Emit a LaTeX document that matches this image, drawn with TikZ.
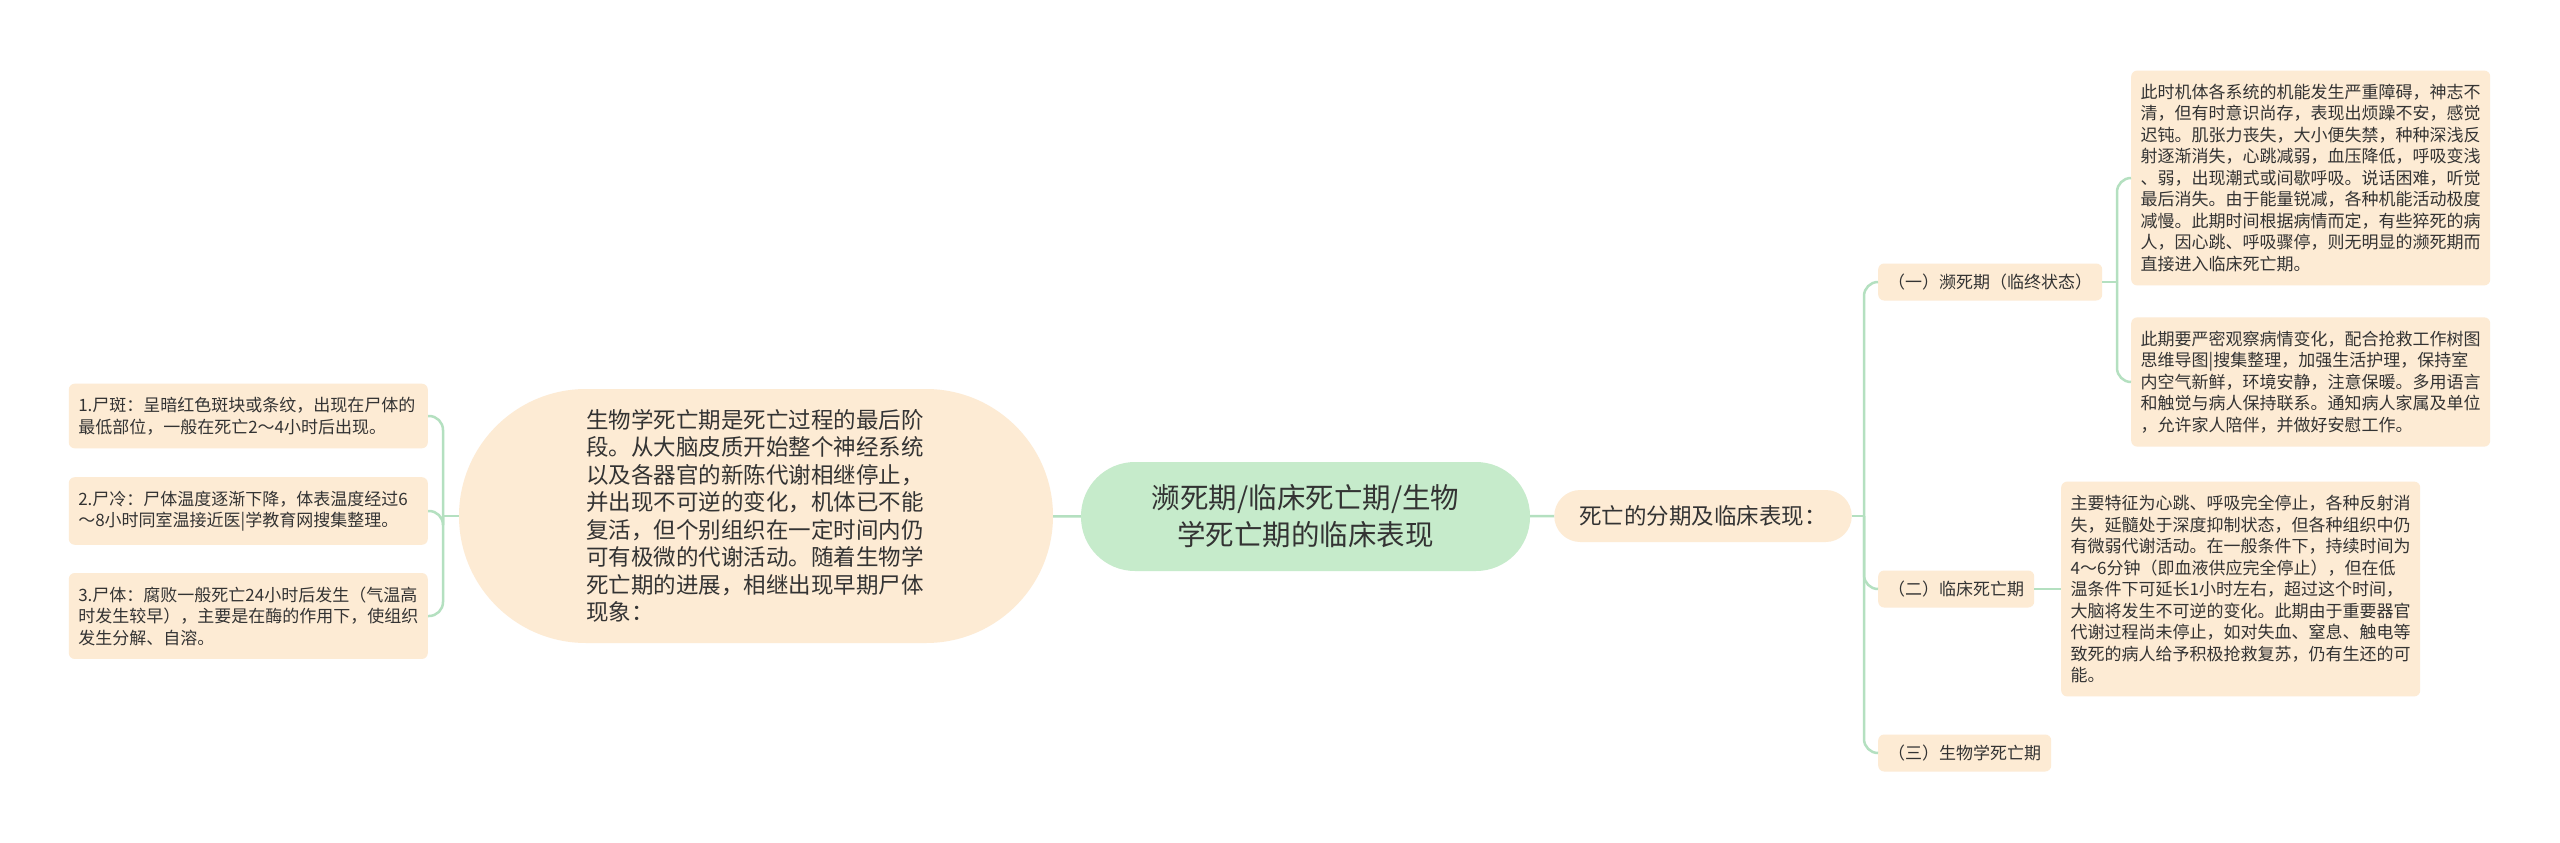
\documentclass[tikz,border=0pt]{standalone}
\usepackage{fontspec}
\setmainfont{Noto Sans CJK SC}
\usepackage{tikz}
\definecolor{peach}{HTML}{FDEBD4}
\definecolor{mint}{HTML}{C6EBCB}
\definecolor{linegreen}{HTML}{B4E0C0}
\definecolor{ink}{HTML}{333333}

\begin{document}
\begin{tikzpicture}[x=1pt,y=-1pt]
\tikzstyle{link}=[draw=linegreen,line width=2.5pt,rounded corners=14pt]
\tikzstyle{note}=[fill=peach,rounded corners=6pt,text=ink,align=left,text width=340pt,inner xsep=9.5pt,inner ysep=13.5pt,font=\fontsize{17}{21.5}\selectfont]
\tikzstyle{stage}=[fill=peach,rounded corners=6pt,text=ink,inner xsep=10pt,minimum height=37pt,font=\fontsize{17}{21.5}\selectfont]
\useasboundingbox[fill=white] (0,0) rectangle (2560,843);
% centre
\node[fill=mint,text=ink,rounded corners=54pt,minimum width=449pt,minimum height=109pt,align=center,font=\fontsize{28.5}{37}\selectfont] (root) at (1305.5,516.5) {濒死期/临床死亡期/生物\\学死亡期的临床表现};
% left side
\node[fill=peach,text=ink,rounded corners=127pt,minimum width=594pt,minimum height=254pt,text width=340pt,align=left,font=\fontsize{22.5}{27.5}\selectfont] (bio) at (756,516) {生物学死亡期是死亡过程的最后阶\\段。从大脑皮质开始整个神经系统\\以及各器官的新陈代谢相继停止，\\并出现不可逆的变化，机体已不能\\复活，但个别组织在一定时间内仍\\可有极微的代谢活动。随着生物学\\死亡期的进展，相继出现早期尸体\\现象：};
\foreach \name/\y/\txt in {
	spot/416/{1.尸斑：呈暗红色斑块或条纹，出现在尸体的\\最低部位，一般在死亡2～4小时后出现。},
	cold/511/{2.尸冷：尸体温度逐渐下降，体表温度经过6\\～8小时同室温接近医|学教育网搜集整理。},
	rot/616/{3.尸体：腐败一般死亡24小时后发生（气温高\\时发生较早），主要是在酶的作用下，使组织\\发生分解、自溶。}}
	\node[note,anchor=east] (\name) at (428,\y) {\txt};
\coordinate (lj) at (443,516);
\draw[link] (root) -- (bio);
\draw[link] (bio) -- (lj);
\foreach \name in {spot,cold,rot}
	\draw[link] (lj) |- (\name.east);
% right side
\node[fill=peach,text=ink,rounded corners=26pt,minimum height=52pt,inner xsep=25pt,font=\fontsize{22.5}{27.5}\selectfont] (phase) at (1703,516) {死亡的分期及临床表现：};
\node[stage,anchor=west] (s1) at (1878,282) {（一）濒死期（临终状态）};
\node[stage,anchor=west] (s2) at (1878,589) {（二）临床死亡期};
\node[stage,anchor=west] (s3) at (1878,753) {（三）生物学死亡期};
\node[note,anchor=west] (d1) at (2131,178) {此时机体各系统的机能发生严重障碍，神志不\\清，但有时意识尚存，表现出烦躁不安，感觉\\迟钝。肌张力丧失，大小便失禁，种种深浅反\\射逐渐消失，心跳减弱，血压降低，呼吸变浅\\、弱，出现潮式或间歇呼吸。说话困难，听觉\\最后消失。由于能量锐减，各种机能活动极度\\减慢。此期时间根据病情而定，有些猝死的病\\人，因心跳、呼吸骤停，则无明显的濒死期而\\直接进入临床死亡期。};
\node[note,anchor=west] (d2) at (2131,382) {此期要严密观察病情变化，配合抢救工作树图\\思维导图|搜集整理，加强生活护理，保持室\\内空气新鲜，环境安静，注意保暖。多用语言\\和触觉与病人保持联系。通知病人家属及单位\\，允许家人陪伴，并做好安慰工作。};
\node[note,anchor=west] (c1) at (2061,589) {主要特征为心跳、呼吸完全停止，各种反射消\\失，延髓处于深度抑制状态，但各种组织中仍\\有微弱代谢活动。在一般条件下，持续时间为\\4～6分钟（即血液供应完全停止），但在低\\温条件下可延长1小时左右，超过这个时间，\\大脑将发生不可逆的变化。此期由于重要器官\\代谢过程尚未停止，如对失血、窒息、触电等\\致死的病人给予积极抢救复苏，仍有生还的可\\能。};
\coordinate (pj) at (1864,516);
\coordinate (sj) at (2117,282);
\draw[link] (root) -- (phase);
\draw[link] (phase) -- (pj);
\foreach \name in {s1,s2,s3}
	\draw[link] (pj) |- (\name.west);
\draw[link] (s1) -- (sj);
\draw[link] (sj) |- (d1.west);
\draw[link] (sj) |- (d2.west);
\draw[link] (s2) -- (c1);
\end{tikzpicture}
\end{document}
